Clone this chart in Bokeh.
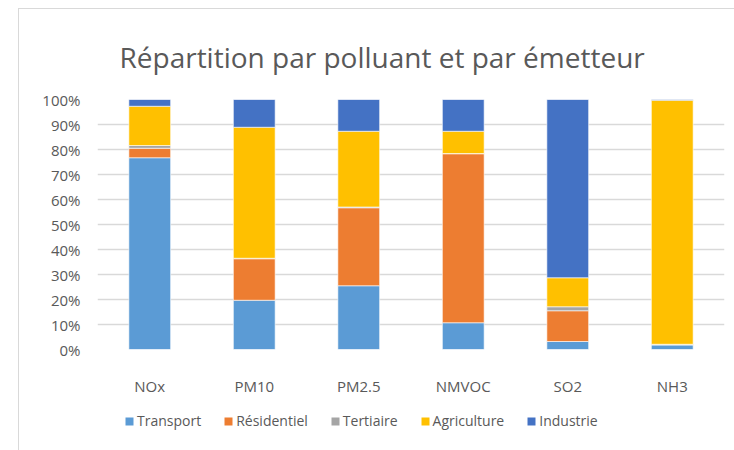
from bokeh.plotting import figure
from bokeh.layouts import column
from bokeh.models import (FactorRange, Range1d, FixedTicker, PrintfTickFormatter,
                          Legend, LegendItem)
from bokeh.embed import file_html
from bokeh.resources import INLINE

categories = ["NOx", "PM10", "PM2.5", "NMVOC", "SO2", "NH3"]
series = ["Transport", "Résidentiel", "Tertiaire", "Agriculture", "Industrie"]
transport = [76.7, 19.7, 25.5, 10.7, 3.2, 1.8]
residentiel = [3.8, 16.6, 31.2, 67.6, 12.3, 0.2]
tertiaire = [1.1, 0.2, 0.3, 0.1, 1.6, 0.1]
agriculture = [15.7, 52.4, 30.3, 8.9, 11.6, 97.6]
industrie = [2.7, 11.1, 12.7, 12.7, 71.3, 0.3]
y_ticks = [0, 10, 20, 30, 40, 50, 60, 70, 80, 90, 100]
colors = ["#5B9BD5", "#ED7D31", "#A5A5A5", "#FFC000", "#4472C4"]

FONT = "Open Sans"
GREY = "#595959"

data = dict(cat=categories, Transport=transport, **{"Résidentiel": residentiel},
            Tertiaire=tertiaire, Agriculture=agriculture, Industrie=industrie)

p = figure(x_range=FactorRange(*categories, range_padding=0), y_range=Range1d(0, 100),
           frame_width=627, frame_height=250, output_backend="svg", toolbar_location=None,
           min_border_left=78, min_border_right=30, min_border_top=90, min_border_bottom=51,
           outline_line_color=None)

renderers = p.vbar_stack(series, x="cat", width=0.4, source=data, color=colors,
                         line_color="white", line_width=0.6)

p.title.text = "Répartition par polluant et par émetteur"
p.title.text_font = FONT
p.title.text_font_size = "28px"
p.title.text_font_style = "normal"
p.title.text_color = GREY
p.title.align = "left"
p.title.offset = 22
p.title.standoff = 48

p.yaxis.ticker = FixedTicker(ticks=y_ticks)
p.yaxis.formatter = PrintfTickFormatter(format="%d%%")
p.yaxis.axis_line_color = None
p.yaxis.major_tick_line_color = None
p.yaxis.minor_tick_line_color = None
p.yaxis.major_label_text_font = FONT
p.yaxis.major_label_text_font_size = "15px"
p.yaxis.major_label_text_color = GREY
p.yaxis.major_label_standoff = 11

p.xaxis.axis_line_color = None
p.xaxis.major_tick_line_color = None
p.xaxis.major_label_text_font = FONT
p.xaxis.major_label_text_font_size = "15px"
p.xaxis.major_label_text_color = GREY
p.xaxis.major_label_standoff = 20

p.xgrid.grid_line_color = None
p.ygrid.ticker = FixedTicker(ticks=y_ticks)
p.ygrid.grid_line_color = "#d9d9d9"
p.ygrid.grid_line_width = 1.5

# legend in its own strip below the chart; its swatches come from the same
# stacked bars, kept out of this strip's visible range
lg = figure(x_range=FactorRange(*categories, range_padding=0), y_range=Range1d(200, 300),
            frame_width=735, frame_height=70,
            output_backend="svg", toolbar_location=None, min_border=0,
            outline_line_color=None, x_axis_type=None, y_axis_type=None)
lg.xgrid.grid_line_color = None
lg.ygrid.grid_line_color = None
swatches = lg.vbar_stack(series, x="cat", width=0.4, source=data, color=colors,
                         line_color=None)

items = [LegendItem(label=s, renderers=[r]) for s, r in zip(series, swatches)]
legend = Legend(items=items, orientation="horizontal", location=(105, 40),
                label_text_font=FONT, label_text_font_size="14px", label_text_color=GREY,
                glyph_width=10, glyph_height=10, label_standoff=3, spacing=22,
                padding=4, margin=0, border_line_color=None, background_fill_alpha=0)
lg.add_layout(legend, "center")

layout = column(p, lg, spacing=0,
                styles={"margin-left": "18px", "margin-top": "8px",
                        "border-left": "1.5px solid #d9d9d9",
                        "border-top": "1.5px solid #d9d9d9",
                        "border-right": "none", "border-bottom": "none",
                        "overflow": "hidden"})

open("out.html", "w").write(file_html(layout, INLINE))
